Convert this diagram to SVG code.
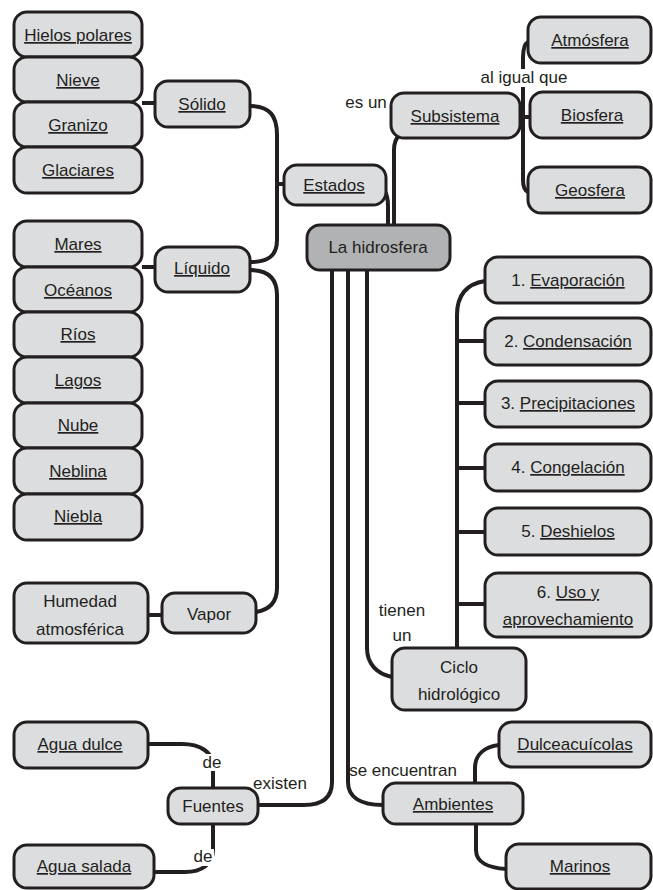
<svg xmlns="http://www.w3.org/2000/svg" width="653" height="890" viewBox="0 0 653 890">
<style>
.b{fill:#dcdddf;stroke:#231f20;stroke-width:3}
.m{fill:#b1b2b4;stroke:#231f20;stroke-width:3}
.c{fill:none;stroke:#231f20;stroke-width:4}
text{font-family:"Liberation Sans",Arial,sans-serif;font-size:17px;fill:#231f20;text-anchor:middle}
.u{text-decoration:underline}
.bg{fill:#ffffff}
</style>
<rect width="653" height="890" fill="#ffffff"/>
<g id="connectors">
<path class="c" d="M250,106 C270,106 277,116 277,135 V240 C277,256 268,262 250,262"/>
<path class="c" d="M277,184 H284"/>
<path class="c" d="M250,270 C270,270 277,280 277,295 V588 C277,603 268,610 256,612"/>
<path class="c" d="M142,103 H155"/>
<path class="c" d="M142,267 H155"/>
<path class="c" d="M148,615 H162"/>
<path class="c" d="M384,190 C387,194 388,198 388,206 V225"/>
<path class="c" d="M400,134 C396,138 394,142 394,150 V225"/>
<path class="c" d="M528,42 C524,44 523,50 523,58 V180 C523,186 524,190 528,192"/>
<path class="c" d="M520,117 H530"/>
<path class="c" d="M332,270 V782 C332,798 322,805 304,805 H258"/>
<path class="c" d="M348,270 V782 C348,797 360,805 383,805"/>
<path class="c" d="M367,270 V648 C367,664 377,674 392,677"/>
<path class="c" d="M485,281 C466,284 457,296 457,315 V648"/>
<path class="c" d="M457,341 H485 M457,403 H485 M457,468 H485 M457,532 H485 M457,604 H485"/>
<path class="c" d="M475,783 V768 C475,755 484,747 499,745"/>
<path class="c" d="M476,824 V850 C476,862 488,868 506,869"/>
<path class="c" d="M148,744 H182 C200,744 213,752 213,766 V788"/>
<path class="c" d="M213,824 V850 C213,864 202,872 185,872 H154"/>
</g>
<g id="labels">
<rect class="bg" x="484" y="69" width="82" height="18"/>
<text x="524" y="83">al igual que</text>
<text x="366" y="108">es un</text>
<text x="402" y="616">tienen</text>
<text x="402" y="641">un</text>
<text x="280" y="789">existen</text>
<rect class="bg" x="353" y="763" width="100" height="17"/>
<text x="403" y="776">se encuentran</text>
<rect class="bg" x="201" y="754" width="22" height="17"/>
<text x="212" y="768">de</text>
<rect class="bg" x="192" y="849" width="22" height="17"/>
<text x="203" y="862">de</text>
</g>
<g id="hielos"><rect class="b" x="14" y="12" width="128" height="45" rx="13"/><text class="u" x="78" y="41">Hielos polares</text></g>
<g id="nieve"><rect class="b" x="14" y="57" width="128" height="45" rx="13"/><text class="u" x="78" y="86">Nieve</text></g>
<g id="granizo"><rect class="b" x="14" y="102" width="128" height="45" rx="13"/><text class="u" x="78" y="131">Granizo</text></g>
<g id="glaciares"><rect class="b" x="14" y="147" width="128" height="46" rx="13"/><text class="u" x="78" y="176">Glaciares</text></g>
<g id="solido"><rect class="b" x="155" y="81" width="95" height="46" rx="13"/><text class="u" x="202" y="110">Sólido</text></g>
<g id="estados"><rect class="b" x="284" y="165" width="102" height="40" rx="13"/><text class="u" x="334" y="191">Estados</text></g>
<g id="mares"><rect class="b" x="14" y="221" width="128" height="46" rx="13"/><text class="u" x="78" y="250">Mares</text></g>
<g id="oceanos"><rect class="b" x="14" y="267" width="128" height="45" rx="13"/><text class="u" x="78" y="296">Océanos</text></g>
<g id="rios"><rect class="b" x="14" y="312" width="128" height="45" rx="13"/><text class="u" x="78" y="340">Ríos</text></g>
<g id="lagos"><rect class="b" x="14" y="357" width="128" height="46" rx="13"/><text class="u" x="78" y="386">Lagos</text></g>
<g id="nube"><rect class="b" x="14" y="403" width="128" height="45" rx="13"/><text class="u" x="78" y="431">Nube</text></g>
<g id="neblina"><rect class="b" x="14" y="448" width="128" height="46" rx="13"/><text class="u" x="78" y="477">Neblina</text></g>
<g id="niebla"><rect class="b" x="14" y="494" width="128" height="46" rx="13"/><text class="u" x="78" y="522">Niebla</text></g>
<g id="liquido"><rect class="b" x="155" y="247" width="95" height="45" rx="13"/><text class="u" x="202" y="274">Líquido</text></g>
<g id="humedad"><rect class="b" x="14" y="583" width="134" height="60" rx="13"/><text x="80" y="607">Humedad</text><text x="80" y="635">atmosférica</text></g>
<g id="vapor"><rect class="b" x="162" y="593" width="94" height="40" rx="13"/><text x="209" y="620">Vapor</text></g>
<g id="aguadulce"><rect class="b" x="14" y="722" width="134" height="46" rx="13"/><text class="u" x="80" y="750">Agua dulce</text></g>
<g id="fuentes"><rect class="b" x="168" y="788" width="90" height="36" rx="13"/><text x="213" y="812">Fuentes</text></g>
<g id="aguasalada"><rect class="b" x="14" y="845" width="140" height="43" rx="13"/><text class="u" x="84" y="872">Agua salada</text></g>
<g id="hidrosfera"><rect class="m" x="307" y="225" width="143" height="45" rx="13"/><text x="378" y="253">La hidrosfera</text></g>
<g id="subsistema"><rect class="b" x="391" y="93" width="129" height="45" rx="13"/><text class="u" x="455" y="122">Subsistema</text></g>
<g id="atmosfera"><rect class="b" x="528" y="17" width="123" height="46" rx="13"/><text class="u" x="590" y="46">Atmósfera</text></g>
<g id="biosfera"><rect class="b" x="530" y="92" width="121" height="46" rx="13"/><text class="u" x="592" y="121">Biosfera</text></g>
<g id="geosfera"><rect class="b" x="528" y="167" width="123" height="46" rx="13"/><text class="u" x="590" y="196">Geosfera</text></g>
<g id="evaporacion"><rect class="b" x="485" y="257" width="166" height="46" rx="13"/><text x="568" y="286">1. <tspan class="u">Evaporación</tspan></text></g>
<g id="condensacion"><rect class="b" x="485" y="318" width="166" height="47" rx="13"/><text x="568" y="347">2. <tspan class="u">Condensación</tspan></text></g>
<g id="precipitaciones"><rect class="b" x="485" y="381" width="166" height="46" rx="13"/><text x="568" y="409">3. <tspan class="u">Precipitaciones</tspan></text></g>
<g id="congelacion"><rect class="b" x="485" y="444" width="166" height="47" rx="13"/><text x="568" y="473">4. <tspan class="u">Congelación</tspan></text></g>
<g id="deshielos"><rect class="b" x="485" y="508" width="166" height="47" rx="13"/><text x="568" y="537">5. <tspan class="u">Deshielos</tspan></text></g>
<g id="uso"><rect class="b" x="485" y="573" width="166" height="64" rx="13"/><text x="568" y="598">6. <tspan class="u">Uso y</tspan></text><text class="u" x="568" y="625">aprovechamiento</text></g>
<g id="ciclo"><rect class="b" x="392" y="648" width="134" height="62" rx="13"/><text x="459" y="673">Ciclo</text><text x="459" y="700">hidrológico</text></g>
<g id="dulceacuicolas"><rect class="b" x="499" y="722" width="152" height="45" rx="13"/><text class="u" x="575" y="750">Dulceacuícolas</text></g>
<g id="ambientes"><rect class="b" x="383" y="783" width="140" height="41" rx="13"/><text class="u" x="453" y="810">Ambientes</text></g>
<g id="marinos"><rect class="b" x="506" y="844" width="145" height="45" rx="13"/><text class="u" x="580" y="872">Marinos</text></g>
</svg>
